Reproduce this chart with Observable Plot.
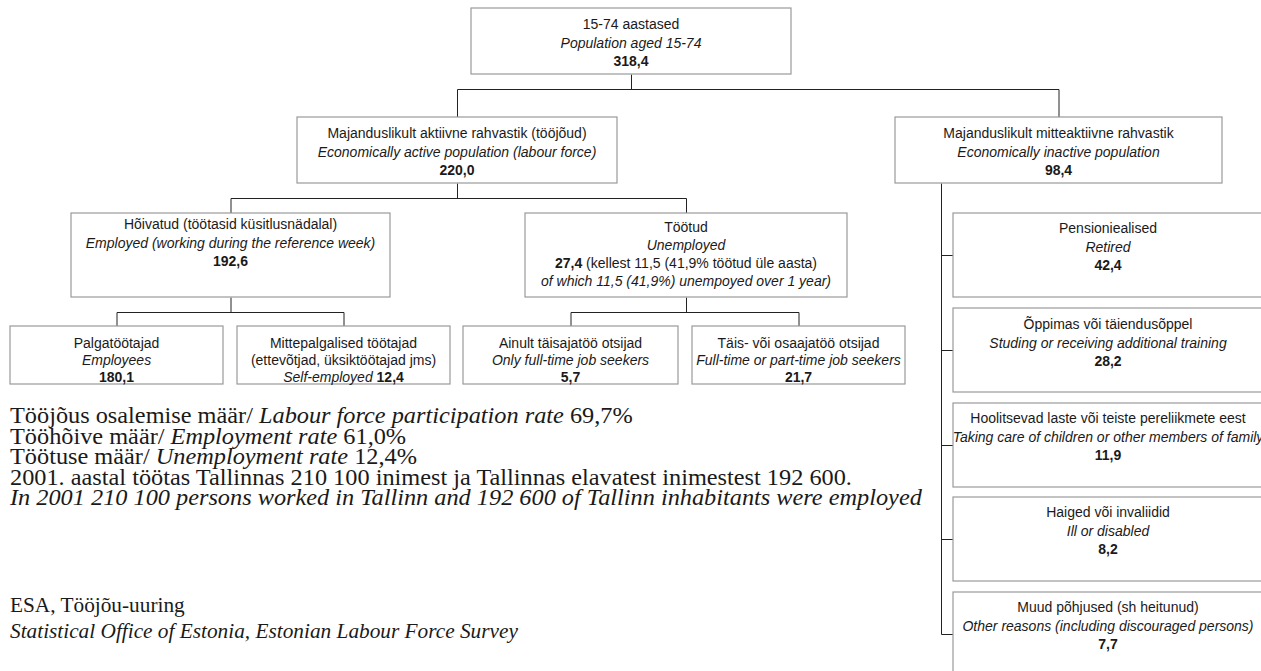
<!DOCTYPE html>
<html>
<head>
<meta charset="utf-8">
<script src="https://cdn.jsdelivr.net/npm/d3@7"></script>
<script src="https://cdn.jsdelivr.net/npm/@observablehq/plot@0.6"></script>
<style>
  html, body { margin: 0; padding: 0; background: #fff; }
  #chart svg { display: block; }
</style>
</head>
<body>
<div id="chart"></div>
<script>
// ---------------- DATA ----------------
const nodeIds = ["root", "active", "inactive", "employed", "unemployed", "employees", "selfEmployed",
  "fullTime", "partTime", "retired", "studying", "caring", "ill", "other"];
const nodeParents = [null, "root", "root", "active", "active", "employed", "employed",
  "unemployed", "unemployed", "inactive", "inactive", "inactive", "inactive", "inactive"];
const labelsEt = ["15-74 aastased", "Majanduslikult aktiivne rahvastik (tööjõud)",
  "Majanduslikult mitteaktiivne rahvastik", "Hõivatud (töötasid küsitlusnädalal)", "Töötud",
  "Palgatöötajad", "Mittepalgalised töötajad", "Ainult täisajatöö otsijad", "Täis- või osaajatöö otsijad",
  "Pensioniealised", "Õppimas või täiendusõppel", "Hoolitsevad laste või teiste pereliikmete eest",
  "Haiged või invaliidid", "Muud põhjused (sh heitunud)"];
const labelsEn = ["Population aged 15-74", "Economically active population (labour force)",
  "Economically inactive population", "Employed (working during the reference week)", "Unemployed",
  "Employees", "Self-employed", "Only full-time job seekers", "Full-time or part-time job seekers",
  "Retired", "Studing or receiving additional training", "Taking care of children or other members of family",
  "Ill or disabled", "Other reasons (including discouraged persons)"];
const values = [318.4, 220.0, 98.4, 192.6, 27.4, 180.1, 12.4, 5.7, 21.7, 42.4, 28.2, 11.9, 8.2, 7.7];
const selfEmployedNote = "(ettevõtjad, üksiktöötajad jms)";
const longTermUnemployed = 11.5;
const longTermShare = 41.9;

const rateLabelsEt = ["Tööjõus osalemise määr/", "Tööhõive määr/", "Töötuse määr/"];
const rateLabelsEn = ["Labour force participation rate", "Employment rate", "Unemployment rate"];
const rateValues = [69.7, 61.0, 12.4];
const tallinnYear = 2001;
const tallinnWorkers = 210100;
const tallinnEmployedInhabitants = 192600;
const sourceLines = ["ESA, Tööjõu-uuring", "Statistical Office of Estonia, Estonian Labour Force Survey"];

// ---------------- LAYOUT (geometry only) ----------------
const W = 1261, H = 671;
const boxLayout = {
  root:         {x1: 471, x2: 791,  y1: 8,   y2: 74,  base: 29,  step: 18.5},
  active:       {x1: 297, x2: 617,  y1: 117, y2: 183, base: 138, step: 18.5},
  inactive:     {x1: 895, x2: 1222, y1: 117, y2: 183, base: 138, step: 18.5},
  employed:     {x1: 71,  x2: 390,  y1: 213, y2: 297, base: 229, step: 18.5},
  unemployed:   {x1: 525, x2: 847,  y1: 213, y2: 297, base: 232, step: 18},
  employees:    {x1: 10,  x2: 223,  y1: 326, y2: 384, base: 348, step: 17},
  selfEmployed: {x1: 237, x2: 450,  y1: 326, y2: 384, base: 348, step: 17},
  fullTime:     {x1: 463, x2: 678,  y1: 326, y2: 384, base: 348, step: 17},
  partTime:     {x1: 692, x2: 905,  y1: 326, y2: 384, base: 348, step: 17},
  retired:      {x1: 953, x2: 1263, y1: 213, y2: 297, base: 233, step: 18.5},
  studying:     {x1: 953, x2: 1263, y1: 308, y2: 392, base: 329, step: 18.5},
  caring:       {x1: 953, x2: 1263, y1: 403, y2: 487, base: 423, step: 18.5},
  ill:          {x1: 953, x2: 1263, y1: 497, y2: 581, base: 517, step: 18.5},
  other:        {x1: 953, x2: 1263, y1: 592, y2: 676, base: 612, step: 18.5}
};
const busY = {root: 89, active: 198, employed: 312, unemployed: 312};
const trunk = {inactive: 941};
const notesTop = 423, notesStep = 20.6, notesX = 10, notesStretch = 1.1;
const sourceTop = 612, sourceStep = 26;

// ---------------- FORMATTING ----------------
const locale = d3.formatLocale({decimal: ",", thousands: " ", grouping: [3], currency: ["", ""]});
const fmt1 = locale.format(".1f");
const fmtInt = locale.format(",d");

function nodeLines(i) {
  const id = nodeIds[i];
  if (id === "selfEmployed") return [
    [[labelsEt[i], "n"]], [[selfEmployedNote, "n"]],
    [[labelsEn[i] + " ", "i"], [fmt1(values[i]), "b"]]
  ];
  if (id === "unemployed") return [
    [[labelsEt[i], "n"]], [[labelsEn[i], "i"]],
    [[fmt1(values[i]), "b"], [` (kellest ${fmt1(longTermUnemployed)} (${fmt1(longTermShare)}% töötud üle aasta)`, "n"]],
    [[`of which ${fmt1(longTermUnemployed)} (${fmt1(longTermShare)}%) unempoyed over 1 year)`, "i"]]
  ];
  return [[[labelsEt[i], "n"]], [[labelsEn[i], "i"]], [[fmt1(values[i]), "b"]]];
}

// boxes table
const boxes = nodeIds.map((id, i) => ({id, ...boxLayout[id]}));

// connectors
const links = [];
const uniqParents = [...new Set(nodeParents.filter(p => p))];
for (const p of uniqParents) {
  const pb = boxLayout[p];
  const kids = nodeIds.filter((id, i) => nodeParents[i] === p).map(id => boxLayout[id]);
  if (trunk[p] !== undefined) {
    const tx = trunk[p];
    const last = kids[kids.length - 1];
    links.push({x1: tx, y1: pb.y2, x2: tx, y2: (last.y1 + last.y2) / 2});
    for (const k of kids) {
      const cy = (k.y1 + k.y2) / 2;
      links.push({x1: tx, y1: cy, x2: k.x1, y2: cy});
    }
  } else {
    const px = (pb.x1 + pb.x2) / 2, by = busY[p];
    links.push({x1: px, y1: pb.y2, x2: px, y2: by});
    const cxs = kids.map(k => (k.x1 + k.x2) / 2);
    links.push({x1: d3.min(cxs), y1: by, x2: d3.max(cxs), y2: by});
    kids.forEach((k, j) => links.push({x1: cxs[j], y1: by, x2: cxs[j], y2: k.y1}));
  }
}

// text items
const textItems = [];
nodeIds.forEach((id, i) => {
  const b = boxLayout[id];
  nodeLines(i).forEach((segs, j) => {
    textItems.push({x: (b.x1 + b.x2) / 2, y: b.base + j * b.step, anchor: "middle", segs,
      family: "'Liberation Sans', Arial, sans-serif", size: 14, stretch: 1});
  });
});
const noteLines = rateLabelsEt.map((et, i) => [[et + " ", "n"], [rateLabelsEn[i], "i"], [" " + fmt1(rateValues[i]) + "%", "n"]]);
noteLines.push([[`${tallinnYear}. aastal töötas Tallinnas ${fmtInt(tallinnWorkers)} inimest ja Tallinnas elavatest inimestest ${fmtInt(tallinnEmployedInhabitants)}.`, "n"]]);
noteLines.push([[`In ${tallinnYear} ${fmtInt(tallinnWorkers)} persons worked in Tallinn and ${fmtInt(tallinnEmployedInhabitants)} of Tallinn inhabitants were employed`, "i"]]);
noteLines.forEach((segs, j) => textItems.push({x: notesX, y: notesTop + j * notesStep, anchor: "start", segs,
  family: "'Liberation Serif', 'Times New Roman', serif", size: 22.1, stretch: notesStretch}));
sourceLines.forEach((s, j) => textItems.push({x: notesX, y: sourceTop + j * sourceStep, anchor: "start",
  segs: [[s, j === 1 ? "i" : "n"]], family: "'Liberation Serif', 'Times New Roman', serif", size: 21.3, stretch: 1}));

// rich text custom mark using Plot's scales
function richText(index, scales, values, dimensions, context) {
  const sx = scales && scales.x ? scales.x : (v => v);
  const sy = scales && scales.y ? scales.y : (v => v);
  const g = d3.create("svg:g");
  for (const t of textItems) {
    const el = g.append("text")
      .attr("transform", `translate(${sx(t.x)},${sy(t.y)}) scale(${t.stretch},1)`)
      .attr("text-anchor", t.anchor)
      .attr("font-family", t.family)
      .attr("font-size", t.size)
      .attr("fill", "#1a1a1a")
      .style("white-space", "pre");
    for (const [str, st] of t.segs) {
      el.append("tspan")
        .attr("font-style", st.includes("i") ? "italic" : "normal")
        .attr("font-weight", st.includes("b") ? "bold" : "normal")
        .text(str);
    }
  }
  return g.node();
}

const chart = Plot.plot({
  width: W, height: H,
  margin: 0,
  x: {domain: [0, W], range: [0, W], axis: null},
  y: {domain: [0, H], range: [0, H], axis: null},
  style: {background: "#fff", overflow: "hidden"},
  marks: [
    Plot.link(links, {x1: "x1", y1: "y1", x2: "x2", y2: "y2", stroke: "#222", strokeWidth: 1}),
    Plot.rect(boxes, {x1: "x1", x2: "x2", y1: "y1", y2: "y2", fill: "#fff", stroke: "#9a9a9a", strokeWidth: 1.2}),
    richText
  ]
});
document.getElementById("chart").appendChild(chart);
</script>
</body>
</html>
